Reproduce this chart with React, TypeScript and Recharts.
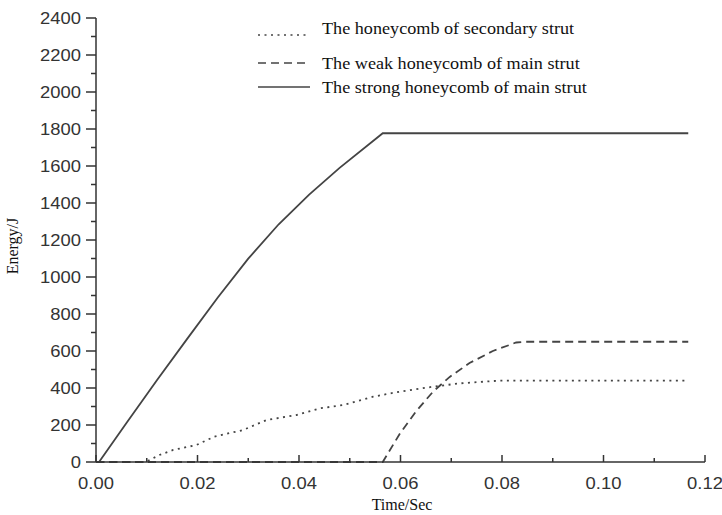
import { LineChart, Line, XAxis, YAxis, Legend } from 'recharts';

// energy absorbed by each honeycomb
const secondaryTime = [0, 0.0098, 0.0125, 0.0152, 0.0198, 0.0233, 0.029, 0.0336, 0.0395, 0.0441, 0.0487, 0.0546, 0.0598, 0.0664, 0.0716, 0.0795, 0.1167];
const secondaryEnergy = [0, 0, 38, 65, 92, 137, 173, 227, 254, 290, 308, 353, 380, 407, 425, 440, 440];

const weakTime = [0, 0.0565, 0.0598, 0.0631, 0.0664, 0.0697, 0.0736, 0.0782, 0.0828, 0.0845, 0.1167];
const weakEnergy = [0, 0, 150, 275, 380, 460, 535, 600, 646, 650, 650];

const strongTime = [0.0006, 0.006, 0.012, 0.018, 0.024, 0.03, 0.036, 0.042, 0.048, 0.0565, 0.1167];
const strongEnergy = [0, 211, 442, 667, 889, 1099, 1285, 1445, 1590, 1777, 1777];

const timeTicks = [0, 0.01, 0.02, 0.03, 0.04, 0.05, 0.06, 0.07, 0.08, 0.09, 0.1, 0.11, 0.12];
const energyTicks = [
  0, 100, 200, 300, 400, 500, 600, 700, 800, 900, 1000, 1100, 1200,
  1300, 1400, 1500, 1600, 1700, 1800, 1900, 2000, 2100, 2200, 2300, 2400,
];

const toPoints = (t: number[], e: number[]) => t.map((v, i) => ({ t: v, e: e[i] }));

const series = [
  { name: 'The honeycomb of secondary strut', data: toPoints(secondaryTime, secondaryEnergy), dash: '2 4.5' },
  { name: 'The weak honeycomb of main strut', data: toPoints(weakTime, weakEnergy), dash: '8 5' },
  { name: 'The strong honeycomb of main strut', data: toPoints(strongTime, strongEnergy), dash: undefined },
];

const lineColor = '#444';
const axisColor = '#333';
const tickFont = '"Liberation Sans", Arial, sans-serif';
const serifFont = '"Liberation Serif", "Times New Roman", serif';

function TimeTick({ x, y, payload }: any) {
  const major = Math.round(payload.value * 100) % 2 === 0;
  return (
    <g>
      <line x1={x} y1={y} x2={x} y2={y - (major ? 7 : 4)} stroke={axisColor} strokeWidth={1.5} />
      {major && (
        <text
          transform={`translate(${x},${y + 27}) scale(1.15,1)`}
          textAnchor="middle"
          fontFamily={tickFont}
          fontSize={16}
          fill="#333"
        >
          {payload.value.toFixed(2)}
        </text>
      )}
    </g>
  );
}

function EnergyTick({ x, y, payload }: any) {
  const major = payload.value % 200 === 0;
  return (
    <g>
      <line x1={x} y1={y} x2={x - (major ? 10 : 5)} y2={y} stroke={axisColor} strokeWidth={1.5} />
      {major && (
        <text
          transform={`translate(${x - 15},${y + 5.5}) scale(1.15,1)`}
          textAnchor="end"
          fontFamily={tickFont}
          fontSize={16}
          fill="#333"
        >
          {payload.value}
        </text>
      )}
    </g>
  );
}

function YTitle() {
  return (
    <text x={18} y={246} transform="rotate(-90 18 246)" textAnchor="middle" fontFamily={serifFont} fontSize={16} fill="#111">
      Energy/J
    </text>
  );
}

function XTitle() {
  return (
    <text x={402} y={510} textAnchor="middle" fontFamily={serifFont} fontSize={16} fill="#111">
      Time/Sec
    </text>
  );
}

const legendRows = [
  { lineY: 35, textY: 34 },
  { lineY: 63, textY: 69 },
  { lineY: 87, textY: 93 },
];

function LegendBox() {
  return (
    <svg width={722} height={110}>
      {series.map((s, i) => (
        <g key={s.name}>
          <line
            x1={258}
            x2={310}
            y1={legendRows[i].lineY}
            y2={legendRows[i].lineY}
            stroke={lineColor}
            strokeWidth={1.6}
            strokeDasharray={s.dash}
          />
          <text
            transform={`translate(322,${legendRows[i].textY}) scale(1.15,1)`}
            fontFamily={serifFont}
            fontSize={15.8}
            fill="#111"
          >
            {s.name}
          </text>
        </g>
      ))}
    </svg>
  );
}

export default function App() {
  return (
    <div style={{ position: 'absolute', left: 0, top: 0, background: '#fff' }}>
      <LineChart width={722} height={515} margin={{ top: 18, right: 17, bottom: 3, left: 30 }}>
        <XAxis
          type="number"
          dataKey="t"
          domain={[0, 0.12]}
          ticks={timeTicks}
          interval={0}
          tickSize={0}
          tickMargin={0}
          tickLine={false}
          tick={TimeTick}
          height={50}
          stroke={axisColor}
          strokeWidth={1.5}
          label={<XTitle />}
        />
        <YAxis
          type="number"
          domain={[0, 2400]}
          ticks={energyTicks}
          interval={0}
          tickSize={0}
          tickMargin={0}
          tickLine={false}
          tick={EnergyTick}
          width={66}
          stroke={axisColor}
          strokeWidth={1.5}
          label={<YTitle />}
        />
        <Legend
          layout="vertical"
          align="center"
          verticalAlign="middle"
          wrapperStyle={{ left: 0, top: 0, width: 722, height: 110 }}
          content={() => <LegendBox />}
        />
        {series.map((s) => (
          <Line
            key={s.name}
            data={s.data}
            dataKey="e"
            name={s.name}
            type="linear"
            stroke={lineColor}
            strokeWidth={1.8}
            strokeDasharray={s.dash}
            dot={false}
            activeDot={false}
            isAnimationActive={false}
          />
        ))}
      </LineChart>
    </div>
  );
}
